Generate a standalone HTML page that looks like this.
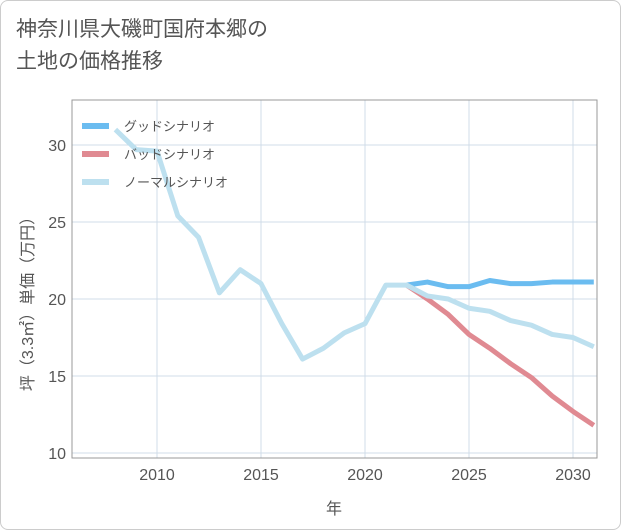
<!DOCTYPE html>
<html><head><meta charset="utf-8"><style>
body{margin:0;background:#fff;}
.card{position:absolute;left:0;top:0;width:619px;height:528px;border:1px solid #ccc;border-radius:8px;background:#fff;}
.t{font-family:"Liberation Sans","Noto Sans CJK JP",sans-serif;}
</style></head><body>
<div class="card"></div>
<div class="t" style="position:absolute;left:16px;top:14px;font-size:21px;line-height:32px;color:#555;">神奈川県大磯町国府本郷の<br>土地の価格推移</div>
<svg id="c" width="621" height="530" style="position:absolute;left:0;top:0"></svg>
<script>
const years=[2008,2009,2010,2011,2012,2013,2014,2015,2016,2017,2018,2019,2020,2021,2022,2023,2024,2025,2026,2027,2028,2029,2030,2031];
const normal=[31.0,29.7,29.6,25.4,24.0,20.4,21.9,21.0,18.4,16.1,16.8,17.8,18.4,20.9,20.9,20.2,20.0,19.4,19.2,18.6,18.3,17.7,17.5,16.9];
const fyears=[2022,2023,2024,2025,2026,2027,2028,2029,2030,2031];
const good=[20.9,21.1,20.8,20.8,21.2,21.0,21.0,21.1,21.1,21.1];
const bad=[20.9,20.0,19.0,17.7,16.8,15.8,14.9,13.7,12.7,11.8];
const xTicks=[2010,2015,2020,2025,2030];
const yTicks=[10,15,20,25,30];
const L=72,R=597,T=100,B=458;
const X=v=>157+(v-2010)*20.8;
const Y=v=>453-(v-10)*15.4;
const s=document.getElementById('c');const NS='http://www.w3.org/2000/svg';
function mk(t,a,p){const e=document.createElementNS(NS,t);for(const k in a)e.setAttribute(k,a[k]);(p||s).appendChild(e);return e;}
const defs=mk('defs',{});const cp=mk('clipPath',{id:'cp'},defs);mk('rect',{x:L,y:T,width:R-L,height:B-T},cp);
for(const v of xTicks){const l=mk('line',{x1:X(v),x2:X(v),y1:T,y2:B,stroke:'#d0dce8','stroke-width':1});


const t=mk('text',{x:X(v),y:480,'text-anchor':'middle','font-size':16,fill:'#555','font-family':'Liberation Sans'});t.textContent=v;

}
for(const v of yTicks){const l=mk('line',{x1:L,x2:R,y1:Y(v),y2:Y(v),stroke:'#d0dce8','stroke-width':1});


const t=mk('text',{x:66,y:Y(v)+6,'text-anchor':'end','font-size':16,fill:'#555','font-family':'Liberation Sans'});t.textContent=v;

}
const fr=mk('rect',{x:L,y:T,width:R-L,height:B-T,fill:'none',stroke:'#999','stroke-width':1});


const g=mk('g',{'clip-path':'url(#cp)'});
function line(xs,ys,col,name){const p=mk('polyline',{points:xs.map((x,i)=>X(x)+','+Y(ys[i])).join(' '),fill:'none',stroke:col,'stroke-width':5,'stroke-linejoin':'round'},g);

}
line(fyears,good,'#6bbcf0','good-scenario-line');
line(fyears,bad,'#e08a92','bad-scenario-line');
line(years,normal,'#bde0ef','normal-scenario-line');
const leg=[['グッドシナリオ','#6bbcf0'],['バッドシナリオ','#e08a92'],['ノーマルシナリオ','#bde0ef']];
leg.forEach((e,i)=>{const y=126+i*28;const l=mk('line',{x1:82,x2:109,y1:y,y2:y,stroke:e[1],'stroke-width':6});


const t=mk('text',{x:124,y:y+5,'font-size':13,fill:'#555','font-family':'Liberation Sans, Noto Sans CJK JP, sans-serif'});t.textContent=e[0];

});
const xt=mk('text',{x:334,y:514,'text-anchor':'middle','font-size':16,fill:'#555','font-family':'Liberation Sans, Noto Sans CJK JP, sans-serif'});xt.textContent='年';


const yt=mk('text',{x:0,y:0,'text-anchor':'middle','font-size':16,fill:'#555','font-family':'Liberation Sans, Noto Sans CJK JP, sans-serif',transform:'translate(33,300) rotate(-90)'});yt.textContent='坪（3.3㎡）単価（万円）';


</script>
</body></html>
